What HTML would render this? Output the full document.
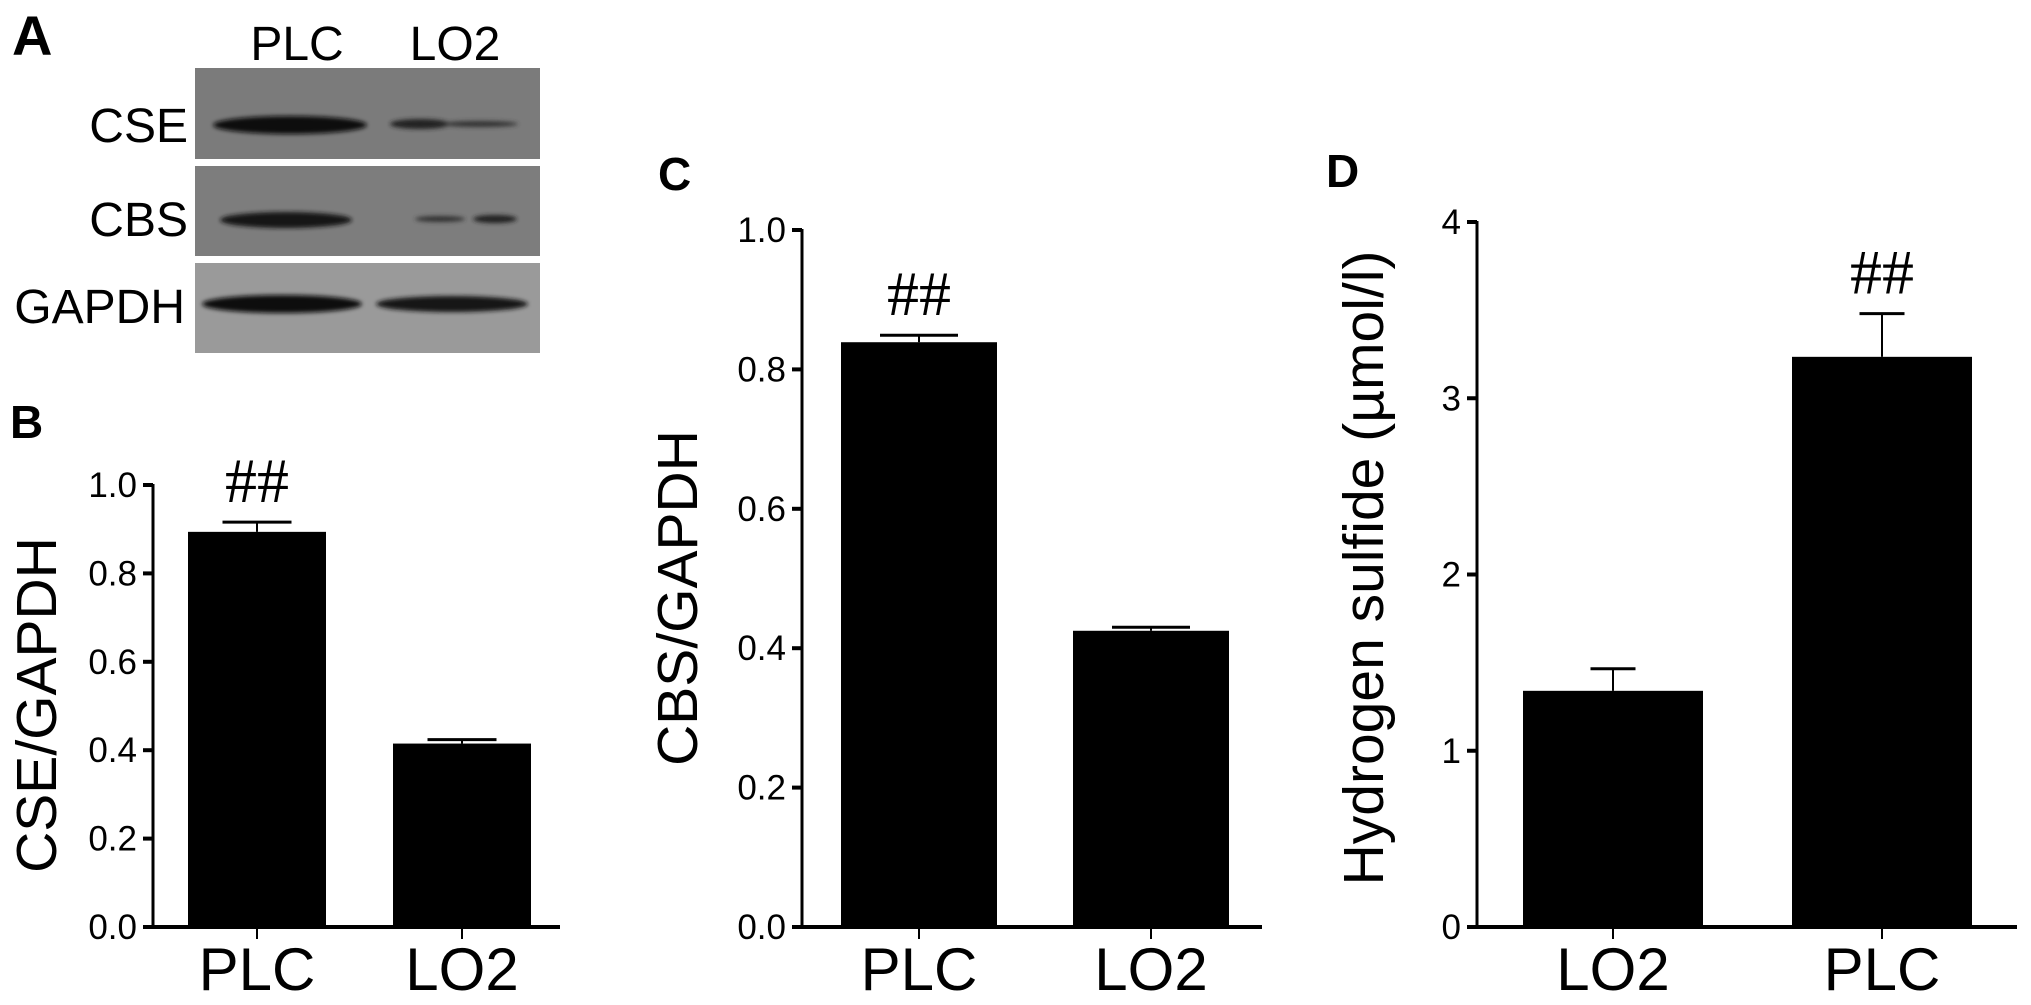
<!DOCTYPE html>
<html><head><meta charset="utf-8"><style>
html,body{margin:0;padding:0;background:#fff;}
svg{display:block;font-family:"Liberation Sans",Arial,sans-serif;}
</style></head><body>
<svg id="fig" width="2031" height="1005" viewBox="0 0 2031 1005" xmlns="http://www.w3.org/2000/svg">
<defs>
<filter id="blur" x="-20%" y="-100%" width="140%" height="300%"><feGaussianBlur stdDeviation="2"/></filter>
</defs>
<!-- Panel A: western blot -->
<g>
<text x="12" y="55" font-size="56" font-weight="bold">A</text>
<text x="297" y="60" font-size="48" text-anchor="middle">PLC</text>
<text x="455" y="60" font-size="48" text-anchor="middle">LO2</text>
<rect x="195" y="68" width="345" height="91" fill="#7b7b7b"/>
<rect x="195" y="166" width="345" height="90" fill="#7d7d7d"/>
<rect x="195" y="263" width="345" height="90" fill="#9a9a9a"/>
<g filter="url(#blur)">
<ellipse cx="290" cy="125" rx="77" ry="9" fill="#111"/>
<ellipse cx="420" cy="124" rx="30" ry="5" fill="#222"/>
<ellipse cx="480" cy="124" rx="38" ry="3" fill="#333"/>
<ellipse cx="286" cy="220" rx="66" ry="8" fill="#141414"/>
<ellipse cx="440" cy="219" rx="25" ry="3" fill="#333"/>
<ellipse cx="495" cy="219" rx="22" ry="4" fill="#222"/>
<ellipse cx="282" cy="304" rx="80" ry="9" fill="#111"/>
<ellipse cx="452" cy="304" rx="76" ry="8" fill="#151515"/>
</g>
<text x="188" y="142" font-size="48" text-anchor="end">CSE</text>
<text x="188" y="236" font-size="48" text-anchor="end">CBS</text>
<text x="185" y="323" font-size="48" text-anchor="end">GAPDH</text>
</g>
<g id="charts"></g>
</svg>
<script>
// Panel B data
const bCategories = ["PLC", "LO2"];
const bValues = [0.894, 0.415];
const bErrors = [0.022, 0.009];
const bTicks = ["0.0", "0.2", "0.4", "0.6", "0.8", "1.0"];
const bTickValues = [0, 0.2, 0.4, 0.6, 0.8, 1.0];
// Panel C data
const cCategories = ["PLC", "LO2"];
const cValues = [0.839, 0.425];
const cErrors = [0.01, 0.005];
const cTicks = ["0.0", "0.2", "0.4", "0.6", "0.8", "1.0"];
const cTickValues = [0, 0.2, 0.4, 0.6, 0.8, 1.0];
// Panel D data
const dCategories = ["LO2", "PLC"];
const dValues = [1.34, 3.235];
const dErrors = [0.125, 0.245];
const dTicks = ["0", "1", "2", "3", "4"];
const dTickValues = [0, 1, 2, 3, 4];

const NS = "http://www.w3.org/2000/svg";
const root = document.getElementById("charts");
function mk(tag, attrs, parent, text) {
  const e = document.createElementNS(NS, tag);
  for (const k in attrs) e.setAttribute(k, attrs[k]);
  if (text !== undefined) e.textContent = text;
  parent.appendChild(e);
  return e;
}
function panel(cfg) {
  const g = mk("g", {}, root);
  
  
  const y = v => cfg.y0 - (v - cfg.vmin) / (cfg.vmax - cfg.vmin) * (cfg.y0 - cfg.y1);
  const lab = mk("text", {x: cfg.labX, y: cfg.labY, "font-size": 46, "font-weight": "bold"}, g, cfg.letter);
  
  
  const yt = mk("text", {x: 0, y: 0, "font-size": 57, "text-anchor": "middle",
    transform: `translate(${cfg.titleX},${cfg.titleY}) rotate(-90)`}, g, cfg.title);
  
  
  // y axis
  const ya = mk("line", {x1: cfg.ax, y1: y(cfg.vmax) - 1, x2: cfg.ax, y2: cfg.y0, stroke: "#000", "stroke-width": 3}, g);
  
  
  cfg.tickValues.forEach((tv, i) => {
    const tk = mk("line", {x1: cfg.ax - 10, y1: y(tv), x2: cfg.ax, y2: y(tv), stroke: "#000", "stroke-width": 4}, g);
    
    
    const tl = mk("text", {x: cfg.ax - 16, y: y(tv) + 12, "font-size": 35, "text-anchor": "end"}, g, cfg.ticks[i]);
    
    
  });
  const xa = mk("line", {x1: cfg.ax - 10, y1: cfg.y0, x2: cfg.axEnd, y2: cfg.y0, stroke: "#000", "stroke-width": 4}, g);
  
  
  cfg.values.forEach((v, i) => {
    const bx = cfg.barX[i], bw = cfg.barW, cx = bx + bw / 2;
    const top = y(v), et = y(v + cfg.errors[i]);
    const bar = mk("rect", {x: bx, y: top, width: bw, height: cfg.y0 - top, fill: "#000"}, g);
    
    
    const ev = mk("line", {x1: cx, y1: et, x2: cx, y2: top, stroke: "#000", "stroke-width": 2}, g);
    
    
    const ec = mk("line", {x1: cx - cfg.capW / 2, y1: et, x2: cx + cfg.capW / 2, y2: et, stroke: "#000", "stroke-width": 3}, g);
    
    
    const xt = mk("line", {x1: cx, y1: cfg.y0, x2: cx, y2: cfg.y0 + 12, stroke: "#000", "stroke-width": 2}, g);
    
    
    const xl = mk("text", {x: cx, y: 990, "font-size": 60, "text-anchor": "middle"}, g, cfg.categories[i]);
    
    
    if (cfg.sig[i]) {
      const s = mk("text", {x: cx, y: et - 20, "font-size": 64, "text-anchor": "middle",
        "font-family": "Liberation Serif, serif"}, g, "##");
      
      
    }
  });
}
panel({name: "panel-b-cse-chart", letter: "B", labX: 10, labY: 438, title: "CSE/GAPDH", titleX: 56, titleY: 705,
  ax: 153, axEnd: 560, y0: 927, y1: 485, vmin: 0, vmax: 1.0, ticks: bTicks, tickValues: bTickValues,
  categories: bCategories, values: bValues, errors: bErrors, barX: [188, 393], barW: 138, capW: 69, sig: [true, false]});
panel({name: "panel-c-cbs-chart", letter: "C", labX: 658, labY: 190, title: "CBS/GAPDH", titleX: 697, titleY: 598,
  ax: 802, axEnd: 1262, y0: 927, y1: 230, vmin: 0, vmax: 1.0, ticks: cTicks, tickValues: cTickValues,
  categories: cCategories, values: cValues, errors: cErrors, barX: [841, 1073], barW: 156, capW: 78, sig: [true, false]});
panel({name: "panel-d-h2s-chart", letter: "D", labX: 1326, labY: 187, title: "Hydrogen sulfide (\u00b5mol/l)", titleX: 1383, titleY: 568,
  ax: 1477, axEnd: 2017, y0: 927, y1: 222, vmin: 0, vmax: 4, ticks: dTicks, tickValues: dTickValues,
  categories: dCategories, values: dValues, errors: dErrors, barX: [1523, 1792], barW: 180, capW: 45, sig: [false, true]});
</script>
</body></html>
